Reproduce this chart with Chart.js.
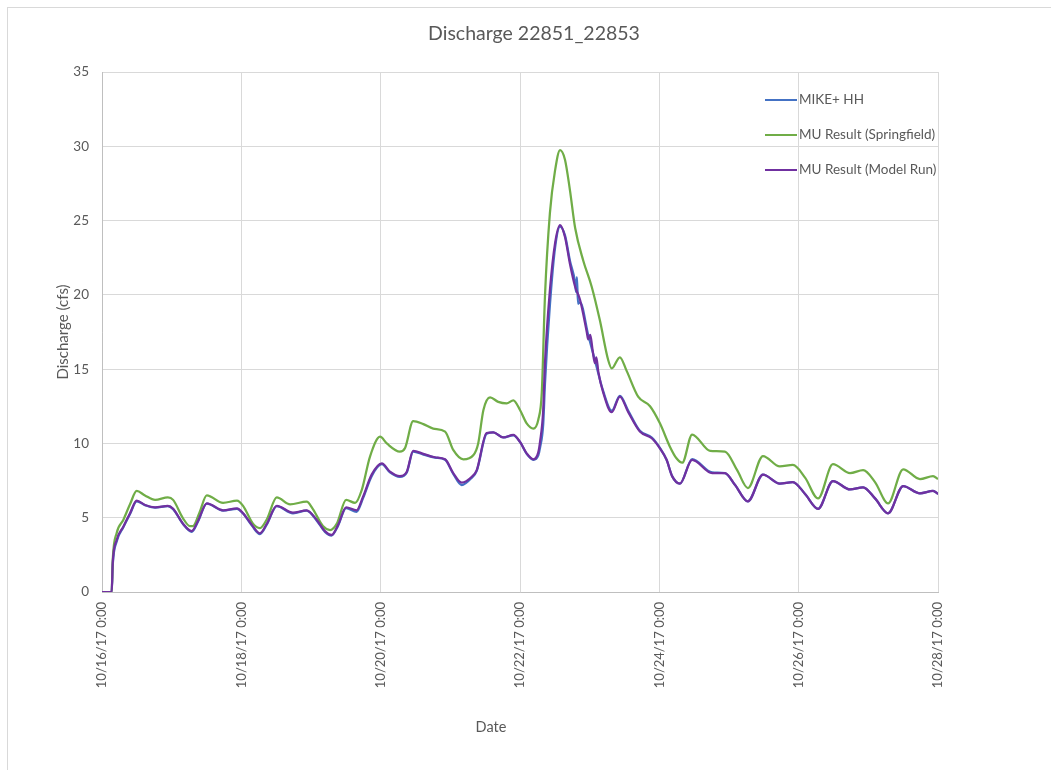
<!DOCTYPE html>
<html>
<head>
<meta charset="utf-8">
<script src="https://cdn.jsdelivr.net/npm/chart.js@4"></script>
<style>
  html, body { margin: 0; padding: 0; background: #fff; }
  #wrap { position: relative; width: 1051px; height: 770px; }
  #frame { position: absolute; left: 7px; top: 7px; right: -5px; bottom: -5px; border-left: 1px solid #d9d9d9; border-top: 1px solid #d9d9d9; }
  canvas { position: absolute; left: 0; top: 0; }
</style>
</head>
<body>
<div id="wrap">
  <div id="frame"></div>
  <canvas id="myChart" width="1051" height="770"></canvas>
</div>
<script>
// hours since 10/16/17 0:00 and discharge (cfs)
var tickLabels = ['10/16/17 0:00', '10/18/17 0:00', '10/20/17 0:00', '10/22/17 0:00',
                  '10/24/17 0:00', '10/26/17 0:00', '10/28/17 0:00'];

var springHours = [0, 3.34, 3.69, 5.06, 7.34, 9.65, 11.95, 14.8, 18.3, 22.7, 24.5, 27.9, 30.3, 31.3, 33.5,
  36.1, 41.7, 46.5, 48.6, 52.0, 54.4, 56.8, 60.2, 64.8, 70.5, 72.6, 76.1, 78.6, 80.9, 84.1, 87.2,
  89.5, 92.3, 95.8, 98.1, 102.6, 104.4, 107.2, 110.7, 114.1, 118.2, 121.0, 124.5, 127.9, 129.6,
  131.4, 133.7, 136.5, 139.4, 141.7, 144.0, 146.3, 148.6, 150.3, 151.5, 152.6, 154.3, 156.1, 157.8,
  159.5, 161.2, 163.0, 165.8, 168.7, 171.5, 174.4, 175.6, 178.4, 180.7, 184.7, 188.8, 192.2, 195.6,
  197.9, 199.9, 203.3, 209.5, 214.6, 218.8, 222.5, 227.7, 233.5, 238.0, 242.2, 246.7, 251.8, 257.7,
  262.2, 266.3, 270.8, 276.0, 281.8, 286.3, 288.0];
var springValues = [0, 0, 2.15, 3.97, 4.85, 5.9, 6.8, 6.5, 6.2, 6.37, 6.2, 4.96, 4.44, 4.44, 5.3,
  6.5, 6.0, 6.15, 5.8, 4.6, 4.3, 4.9, 6.37, 5.9, 6.08, 5.6, 4.44, 4.17, 4.6, 6.2, 6.0,
  6.87, 9.1, 10.45, 10.0, 9.45, 9.7, 11.5, 11.3, 11.0, 10.8, 9.56, 8.93, 9.2, 10.0,
  12.25, 13.1, 12.8, 12.7, 12.9, 12.25, 11.35, 11.0, 11.6, 13.4, 19.9, 25.5, 28.4, 29.75,
  29.1, 27.05, 24.5, 22.3, 20.55, 18.3, 15.6, 15.05, 15.8, 14.9, 13.15, 12.5, 11.35, 9.8,
  9.0, 8.7, 10.6, 9.5, 9.45, 8.2, 7.0, 9.15, 8.45, 8.55, 7.7, 6.3, 8.6, 8.0,
  8.2, 7.4, 5.97, 8.26, 7.6, 7.8, 7.6];

var modelHours = [0, 3.34, 3.69, 5.06, 7.34, 9.65, 11.95, 14.8, 18.3, 22.7, 24.5, 27.9, 30.9, 33.1,
  36.1, 41.7, 46.5, 48.6, 51.7, 54.4, 56.8, 60.2, 65.8, 70.5, 74.0, 76.8, 79.1, 81.3, 84.1, 87.7,
  89.9, 92.9, 96.4, 99.2, 102.6, 105.0, 107.2, 110.7, 114.7, 118.2, 121.0, 123.9, 127.4, 129.1,
  132.5, 134.8, 138.2, 141.7, 144.0, 146.3, 148.6, 150.3, 150.9, 152.0, 152.6, 154.3, 156.1, 157.8,
  159.5, 161.2, 163.0, 164.7, 167.0, 167.5, 168.2, 169.0, 169.8, 170.3, 171.0, 172.7, 175.6, 178.4,
  181.3, 185.3, 189.4, 192.2, 194.5, 196.4, 199.1, 203.3, 210.2, 214.6, 218.1, 222.5, 227.7, 233.5,
  238.0, 242.2, 246.7, 251.8, 257.7, 262.2, 266.3, 270.8, 276.0, 281.8, 286.3, 288.0];
var modelValues = [0, 0, 1.93, 3.5, 4.4, 5.3, 6.15, 5.86, 5.7, 5.8, 5.6, 4.6, 4.1, 4.8,
  5.97, 5.5, 5.63, 5.3, 4.5, 3.95, 4.6, 5.8, 5.34, 5.5, 4.85, 4.1, 3.84, 4.5, 5.7, 5.5,
  6.4, 7.9, 8.66, 8.1, 7.8, 8.1, 9.5, 9.3, 9.07, 8.93, 8.0, 7.36, 7.76, 8.2,
  10.7, 10.75, 10.4, 10.57, 10.1, 9.33, 8.93, 9.4, 10.1, 12.25, 15.4, 20.3, 23.5, 24.7,
  23.9, 22.1, 20.55, 19.65, 17.5, 17.0, 17.3, 16.3, 15.4, 15.8, 14.8, 13.4, 12.1, 13.15,
  12.1, 10.8, 10.35, 9.67, 8.9, 7.8, 7.3, 8.9, 8.0, 8.0, 7.2, 6.1, 7.9, 7.3,
  7.4, 6.6, 5.6, 7.47, 6.9, 7.05, 6.3, 5.3, 7.13, 6.64, 6.8, 6.6];

var mikeHours = [0, 3.34, 3.69, 5.06, 7.34, 9.65, 11.95, 14.8, 18.3, 22.7, 24.5, 27.9, 30.9, 33.1,
  36.1, 41.7, 46.5, 48.6, 51.7, 54.4, 56.8, 60.2, 65.8, 70.5, 74.0, 76.8, 79.1, 81.3, 84.1, 87.7,
  89.9, 92.9, 96.4, 99.2, 102.6, 105.0, 107.2, 110.7, 114.7, 118.2, 121.0, 123.9, 127.4, 129.1,
  132.5, 134.8, 138.2, 141.7, 144.0, 146.3, 148.6, 150.3, 150.9, 152.0, 152.6, 154.3, 156.1, 157.8,
  159.5, 161.2, 163.0, 163.3, 163.6, 164.0, 164.7, 167.5, 169.8, 172.7, 175.6, 178.4,
  181.3, 185.3, 189.4, 192.2, 194.5, 196.4, 199.1, 203.3, 210.2, 214.6, 218.1, 222.5, 227.7, 233.5,
  238.0, 242.2, 246.7, 251.8, 257.7, 262.2, 266.3, 270.8, 276.0, 281.8, 286.3, 288.0];
var mikeValues = [0, 0, 1.8, 3.4, 4.35, 5.25, 6.1, 5.85, 5.68, 5.78, 5.58, 4.58, 4.05, 4.75,
  5.95, 5.48, 5.6, 5.28, 4.45, 3.9, 4.55, 5.78, 5.3, 5.48, 4.8, 4.05, 3.8, 4.45, 5.65, 5.4,
  6.3, 7.8, 8.6, 8.05, 7.75, 8.05, 9.45, 9.25, 9.05, 8.9, 7.95, 7.2, 7.7, 8.15,
  10.65, 10.75, 10.4, 10.55, 10.1, 9.3, 8.9, 9.2, 9.7, 11.3, 14.0, 19.3, 23.2, 24.6,
  24.0, 22.3, 20.8, 20.2, 21.2, 19.4, 19.5, 17.3, 15.6, 13.5, 12.2, 13.2,
  12.2, 10.85, 10.4, 9.7, 8.9, 7.8, 7.3, 8.95, 8.05, 8.0, 7.2, 6.1, 7.9, 7.3,
  7.4, 6.6, 5.6, 7.47, 6.9, 7.05, 6.3, 5.3, 7.13, 6.64, 6.8, 6.6];

function toPoints(hours, values) {
  var pts = [];
  for (var i = 0; i < hours.length; i++) {
    pts.push({x: hours[i], y: values[i]});
  }
  return pts;
}

var textColor = '#595959';
var fontFamily = 'Lato, "Open Sans", sans-serif';

// title, legend and x axis title drawn like the Excel chart
var excelText = {
  id: 'excelText',
  afterDraw: function(chart) {
    var ctx = chart.ctx;
    ctx.save();
    ctx.fillStyle = textColor;
    ctx.textBaseline = 'middle';
    ctx.textAlign = 'center';
    ctx.font = '19.5px ' + fontFamily;
    ctx.fillText('Discharge 22851_22853', 534, 34);
    ctx.font = '14.5px ' + fontFamily;
    ctx.fillText('Date', 491, 727);
    ctx.textAlign = 'left';
    ctx.font = '13.5px ' + fontFamily;
    [0, 1, 2].forEach(function(i) {
      var ds = chart.data.datasets[i];
      var y = 100 + i * 35;
      ctx.strokeStyle = ds.borderColor;
      ctx.lineWidth = 2;
      ctx.beginPath();
      ctx.moveTo(765, y);
      ctx.lineTo(797, y);
      ctx.stroke();
      ctx.fillText(ds.label, 799, y);
    });
    ctx.restore();
  }
};

var ctx = document.getElementById('myChart').getContext('2d');
var myChart = new Chart(ctx, {
  type: 'line',
  data: {
    datasets: [{
      label: 'MIKE+ HH',
      data: toPoints(mikeHours, mikeValues),
      borderColor: '#4472C4',
      borderWidth: 2.25,
      order: 2
    }, {
      label: 'MU Result (Springfield)',
      data: toPoints(springHours, springValues),
      borderColor: '#70AD47',
      borderWidth: 2.25,
      order: 1
    }, {
      label: 'MU Result (Model Run)',
      data: toPoints(modelHours, modelValues),
      borderColor: '#7030A0',
      borderWidth: 2.25,
      order: 0
    }]
  },
  options: {
    responsive: false,
    animation: false,
    layout: { padding: { left: 8, top: 72, right: 113, bottom: 8 } },
    elements: {
      point: { radius: 0 },
      line: { cubicInterpolationMode: 'monotone' }
    },
    plugins: {
      legend: { display: false },
      tooltip: { enabled: false },
      title: { display: false }
    },
    scales: {
      x: {
        type: 'linear',
        min: 0,
        max: 288,
        afterFit: function(s) { s.height = 170; },
        afterBuildTicks: function(s) {
          s.ticks = tickLabels.map(function(t, i) { return {value: i * 48}; });
        },
        ticks: {
          color: textColor,
          font: { family: fontFamily, size: 13 },
          minRotation: 90,
          maxRotation: 90,
          padding: 10,
          autoSkip: false,
          callback: function(v) { return tickLabels[Math.round(v / 48)]; }
        },
        grid: { color: '#d9d9d9', drawTicks: false },
        border: { color: '#bfbfbf' }
      },
      y: {
        min: 0,
        max: 35,
        afterFit: function(s) { s.width = 94; },
        ticks: {
          stepSize: 5,
          color: textColor,
          font: { family: fontFamily, size: 13.5 },
          padding: 13
        },
        title: {
          display: true,
          text: 'Discharge (cfs)',
          color: textColor,
          font: { family: fontFamily, size: 15 },
          padding: { top: 46, bottom: 0 }
        },
        grid: { color: '#d9d9d9', drawTicks: false },
        border: { color: '#bfbfbf' }
      }
    }
  },
  plugins: [excelText]
});
</script>
</body>
</html>
